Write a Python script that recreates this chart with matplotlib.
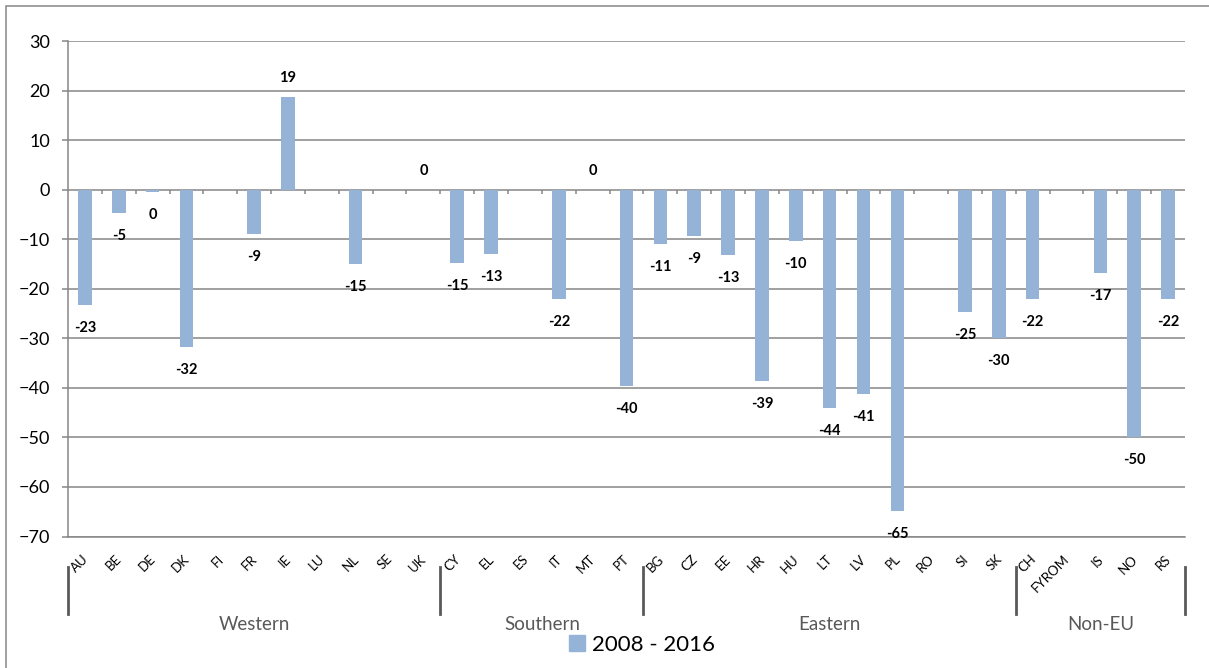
import numpy as np
import matplotlib.pyplot as plt
from matplotlib import transforms
from matplotlib.patches import Patch, Rectangle

plt.rcParams['font.family'] = ['Lato', 'DejaVu Sans']

# country codes in chart order, grouped by region
countries = ['AU', 'BE', 'DE', 'DK', 'FI', 'FR', 'IE', 'LU', 'NL', 'SE', 'UK',
             'CY', 'EL', 'ES', 'IT', 'MT', 'PT',
             'BG', 'CZ', 'EE', 'HR', 'HU', 'LT', 'LV', 'PL', 'RO', 'SI', 'SK',
             'CH', 'FYROM', 'IS', 'NO', 'RS']
groups = ['Western', 'Southern', 'Eastern', 'Non-EU']
group_sizes = [11, 6, 11, 5]

# % change 2008 - 2016 (nan = no data)
nan = np.nan
change = [-23.3, -4.7, -0.4, -31.8, nan, -8.9, 18.7, nan, -15.0, nan, 0.0,
          -14.9, -13.0, nan, -22.1, 0.0, -39.6,
          -10.9, -9.4, -13.1, -38.7, -10.3, -44.1, -41.3, -64.8, nan, -24.7, -30.0,
          -22.1, nan, -16.9, -49.9, -22.1]
series_name = '2008 - 2016'

BAR = '#95b3d7'
GRID = '#868686'
GROUP_TXT = '#595959'

W, H = 1209, 668
fig = plt.figure(figsize=(W / 100, H / 100), dpi=100)
ax = fig.add_axes([68 / W, 1 - 536.5 / H, (1185 - 68) / W, (536.5 - 41) / H])

x = np.arange(len(countries))
vals = np.array(change, dtype=float)
ok = ~np.isnan(vals)
ax.bar(x[ok], vals[ok], width=0.4, color=BAR, zorder=3)

for xi, v in zip(x[ok], vals[ok]):
    dy = 15 if v >= 0 else -27
    ax.annotate(f'{round(v)}', (xi, v), xytext=(0, dy), textcoords='offset pixels',
                ha='center', va='baseline', fontsize=10.5, fontweight='bold', zorder=4)

ax.set_xlim(-0.5, len(countries) - 0.5)
ax.set_ylim(-70, 30)
ax.set_yticks(range(-70, 31, 10))
ax.yaxis.grid(True, color=GRID, lw=1.1)
ax.set_axisbelow(True)
for s in ['top', 'right']:
    ax.spines[s].set_visible(False)
for s in ['left', 'bottom']:
    ax.spines[s].set_color(GRID)
    ax.spines[s].set_linewidth(1.1)
ax.tick_params(axis='y', direction='out', length=4.3, width=1.1, color=GRID,
               pad=8.6, labelsize=13)
ax.set_xticks([])

# category labels, slanted, ending just under each category
trans = transforms.blended_transform_factory(ax.transData, fig.transFigure)
for xi, c in zip(x, countries):
    ax.text(xi + 0.03, 1 - 557 / H, c, transform=trans, rotation=45,
            rotation_mode='anchor', ha='right', va='center', fontsize=9.5)

# small tick marks on the zero line between categories
bounds = np.arange(len(countries) + 1) - 0.5
ax.plot(bounds[1:-1], np.zeros(len(bounds) - 2), ls='none', marker=3, ms=3,
        mew=1.1, color=GRID, zorder=2)

# region separators and names under the category labels
edges = np.concatenate([[0], np.cumsum(group_sizes)]) - 0.5
for e in edges:
    ax.plot([e, e], [1 - 567 / H, 1 - 614 / H], color=GROUP_TXT, lw=2,
            transform=trans, clip_on=False)
clip = Rectangle((0, 1 - 630 / H), 1, 1, transform=fig.transFigure)
for name, a, b in zip(groups, edges[:-1], edges[1:]):
    t = ax.text((a + b) / 2, 1 - 625 / H, name, transform=trans, ha='center',
                va='center', fontsize=13.5, color=GROUP_TXT)
    t.set_clip_on(True)
    t.set_clip_path(clip)

fig.legend(handles=[Patch(color=BAR, label=series_name)], loc='center',
           bbox_to_anchor=(642 / W, 1 - 645 / H), frameon=False, fontsize=16,
           handlelength=0.7, handleheight=0.7, handletextpad=0.3)

# chart border
fig.add_artist(Rectangle((6 / W, -0.1), 1.2, 1.1 - 6 / H, transform=fig.transFigure,
                         fill=False, ec=GRID, lw=1.1))

fig.savefig('out.png', dpi=100)
